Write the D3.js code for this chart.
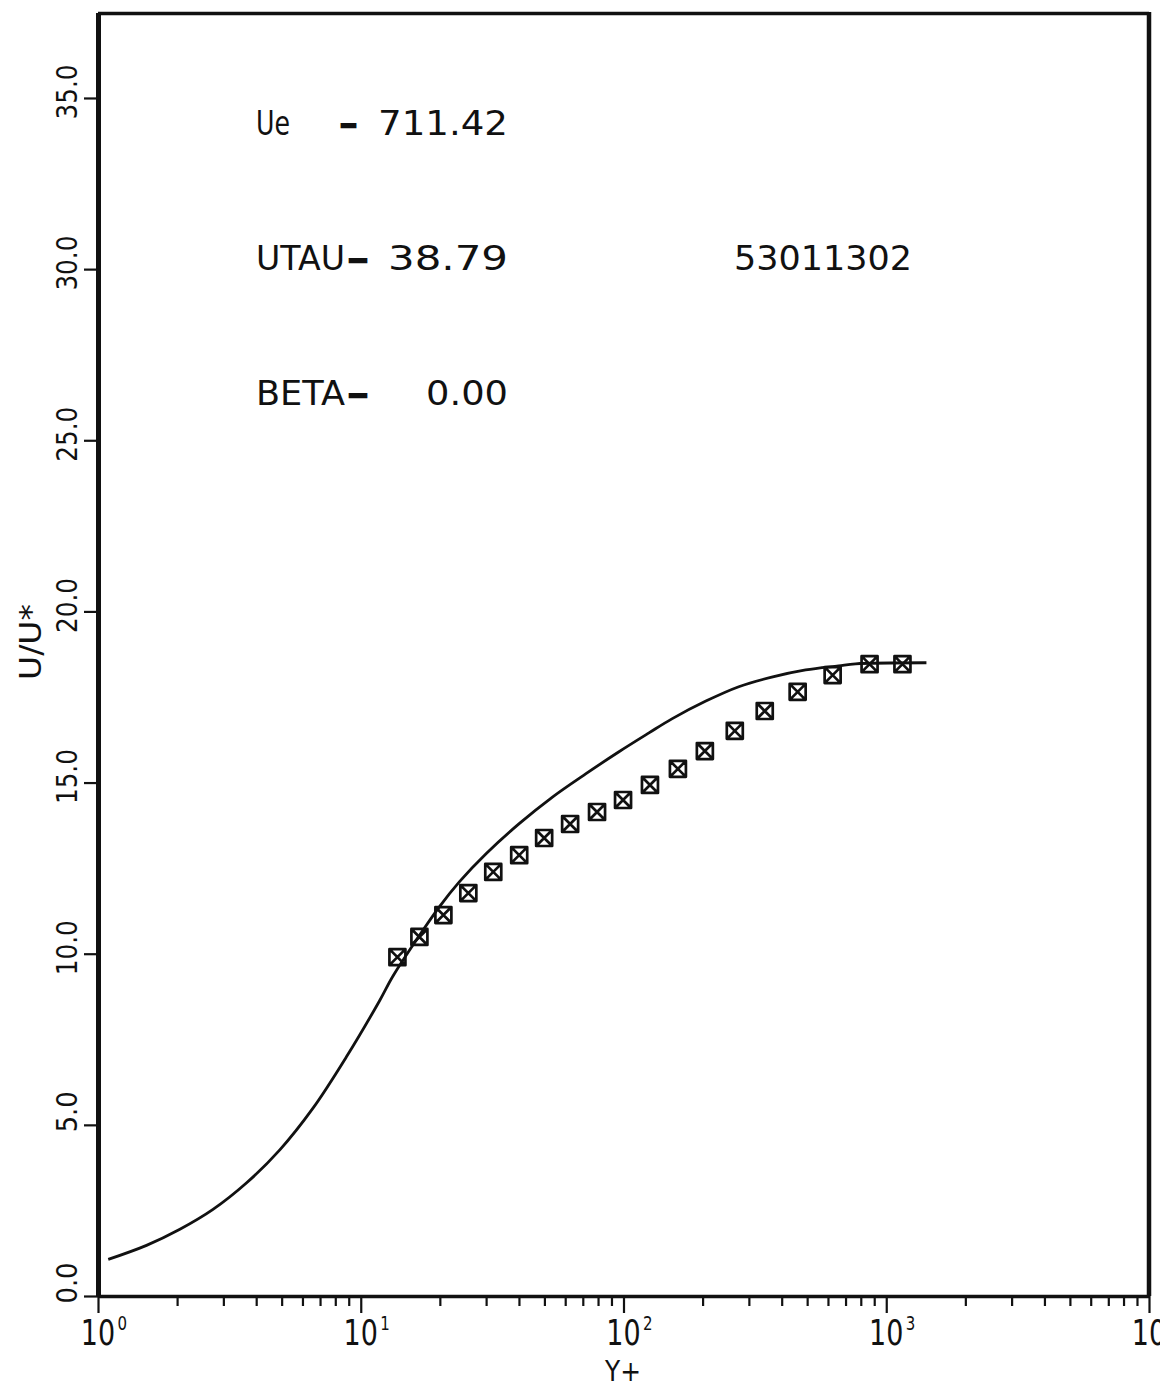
<!DOCTYPE html>
<html>
<head>
<meta charset="utf-8">
<script src="https://cdn.jsdelivr.net/npm/d3@7"></script>
<style>
  html, body { margin: 0; padding: 0; background: #fff; }
  svg { display: block; }
  text { font-family: "DejaVu Sans", sans-serif; fill: #111; }
</style>
</head>
<body>
<script>
// ---- data ----
// measured points (boxed-X markers)
const pointYPlus = [13.79, 16.72, 20.63, 25.67, 31.94, 40.09, 49.89, 62.64, 79.31, 99.6,
                    126.1, 161.1, 204.0, 265.2, 344.8, 460.1, 625.1, 864.0, 1152.6];
const pointU     = [9.90, 10.49, 11.13, 11.77, 12.39, 12.88, 13.38, 13.79, 14.14, 14.49,
                    14.93, 15.40, 15.92, 16.51, 17.09, 17.65, 18.14, 18.46, 18.46];
// reference curve (law of the wall + wake)
const curveYPlus = [1.094, 1.53, 2.05, 2.74, 3.67, 4.92, 6.57, 8.81, 11.78, 13.20, 15.73, 19.91,
                    23.72, 30.05, 40.09, 53.5, 72.0, 96.1, 125.0, 152.8, 205.8, 274.6, 366.6,
                    493.6, 658.6, 764.1, 1422];
const curveU     = [1.07, 1.48, 1.95, 2.53, 3.30, 4.27, 5.48, 6.98, 8.62, 9.32, 10.23, 11.37,
                    12.10, 12.93, 13.80, 14.57, 15.26, 15.90, 16.45, 16.86, 17.38, 17.80, 18.08,
                    18.29, 18.41, 18.47, 18.50];
const xMajorTicks = [1, 10, 100, 1000, 10000];
const xMajorExp   = ["0", "1", "2", "3", "4"];
const yTicks = [0, 5, 10, 15, 20, 25, 30, 35];
const annoLines = [
  ["Ue", "-", "711.42"],
  ["UTAU", "-", "38.79"],
  ["BETA", "-", "0.00"]
];
const runId = "53011302";
const xTitle = "Y+";
const yTitle = "U/U*";

// ---- layout ----
const W = 1172, H = 1389;
const L = 98, R = 1149, T = 12.4, B = 1296;

const svg = d3.select("body").append("svg").attr("width", W).attr("height", H);
svg.append("rect").attr("width", W).attr("height", H).attr("fill", "#fff");

svg.append("defs").append("clipPath").attr("id", "pageclip")
  .append("rect").attr("x", 0).attr("y", 0).attr("width", 1160).attr("height", H);

const x = d3.scaleLog().domain([1, 10000]).range([L, R]);
const y = d3.scaleLinear().domain([0, 37.5]).range([B, T]);

// minor + major x ticks
const xAllTicks = [];
for (let e = 0; e < 4; e++) for (let m = 1; m <= 9; m++) xAllTicks.push(m * Math.pow(10, e));
xAllTicks.push(10000);

const gx = svg.append("g").attr("transform", `translate(0,${B})`)
  .call(d3.axisBottom(x).tickValues(xAllTicks).tickSizeOuter(0).tickFormat(""));
gx.select(".domain").attr("stroke", "#111").attr("stroke-width", 3.5);
gx.selectAll(".tick line")
  .attr("stroke", "#111").attr("stroke-width", 2.2)
  .attr("y2", d => xMajorTicks.includes(d) ? 17 : 10);

const gy = svg.append("g").attr("transform", `translate(${L},0)`)
  .call(d3.axisLeft(y).tickValues(yTicks).tickSize(14).tickSizeOuter(0).tickFormat(d3.format(".1f")));
gy.select(".domain").attr("stroke", "#111").attr("stroke-width", 5);
gy.selectAll(".tick line").attr("stroke", "#111").attr("stroke-width", 2.2);
gy.selectAll(".tick text")
  .attr("x", null).attr("dy", null).attr("y", null)
  .attr("transform", "translate(-31,-34) rotate(-90)")
  .attr("text-anchor", "end")
  .attr("dominant-baseline", "central")
  .attr("font-size", 28)
  .attr("fill", "#111")
  .attr("textLength", function() { return this.textContent.length === 4 ? 55 : 41; })
  .attr("lengthAdjust", "spacingAndGlyphs");

// top and right frame lines
svg.append("line").attr("x1", L).attr("x2", R).attr("y1", 13.5).attr("y2", 13.5)
  .attr("stroke", "#111").attr("stroke-width", 3.5);
svg.append("line").attr("x1", R).attr("x2", R).attr("y1", 12).attr("y2", B)
  .attr("stroke", "#111").attr("stroke-width", 4.5);

// x tick labels 10^n (one text each, horizontally condensed like the plotter font)
const xl = svg.append("g").attr("clip-path", "url(#pageclip)");
xMajorTicks.forEach((v, i) => {
  const t = xl.append("g").attr("transform", `translate(${x(v)},1345) scale(0.75,1)`)
    .append("text").attr("x", -22.9).attr("y", 0).attr("text-anchor", "start")
    .attr("font-size", 36);
  t.append("tspan").text("10");
  t.append("tspan").attr("dx", 3).attr("dy", -15).attr("font-size", 20).text(xMajorExp[i]);
});

// axis titles
svg.append("text").attr("x", 623).attr("y", 1381).attr("text-anchor", "middle")
  .attr("font-size", 28).attr("textLength", 36).attr("lengthAdjust", "spacingAndGlyphs")
  .text(xTitle);
svg.append("text").attr("transform", "translate(30,642) rotate(-90)")
  .attr("text-anchor", "middle").attr("dominant-baseline", "central")
  .attr("font-size", 30).attr("textLength", 76).attr("lengthAdjust", "spacingAndGlyphs")
  .text(yTitle);

// annotations
const annoX = [[256, 340, 378], [256, 348, 388], [256, 348, 426]];
const annoW = [[34, 17, 130], [89, 20, 120], [89, 20, 82]];
const annoY = [135, 270, 405];
annoLines.forEach((parts, r) => {
  parts.forEach((t, c) => {
    const el = svg.append("text").attr("x", annoX[r][c]).attr("y", annoY[r])
      .attr("font-size", 34).attr("textLength", annoW[r][c]).attr("lengthAdjust", "spacingAndGlyphs")
      .text(t);
    if (t === "-") el.attr("stroke", "#111").attr("stroke-width", 2.5);
  });
});
svg.append("text").attr("x", 734).attr("y", 270).attr("font-size", 34)
  .attr("textLength", 178).attr("lengthAdjust", "spacingAndGlyphs").text(runId);

// curve
const curveData = curveYPlus.map((v, i) => [v, curveU[i]]);
const line = d3.line().x(d => x(d[0])).y(d => y(d[1])).curve(d3.curveCatmullRom.alpha(0.5));
svg.append("path").datum(curveData).attr("d", line)
  .attr("fill", "none").attr("stroke", "#111").attr("stroke-width", 2.8);

// markers: boxed X
const s = 8;
const markerPath = `M${-s},${-s}H${s}V${s}H${-s}Z M${-s},${-s}L${s},${s} M${s},${-s}L${-s},${s}`;
svg.append("g").selectAll("path").data(pointYPlus.map((v, i) => [v, pointU[i]])).join("path")
  .attr("transform", d => `translate(${x(d[0])},${y(d[1])})`)
  .attr("d", markerPath)
  .attr("fill", "none").attr("stroke", "#111").attr("stroke-width", 2.7)
  .attr("stroke-linejoin", "round");
</script>
</body>
</html>
